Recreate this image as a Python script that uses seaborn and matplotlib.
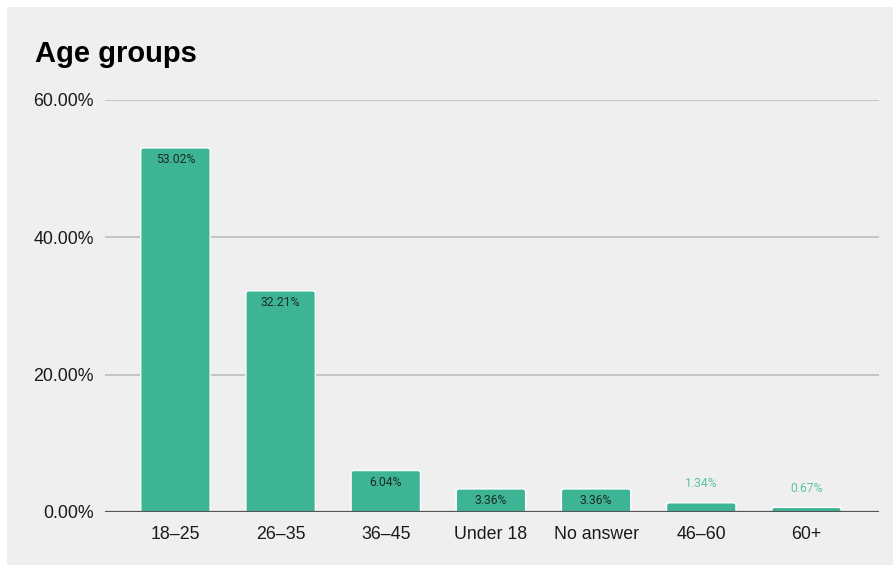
import matplotlib
matplotlib.use("Agg")
import matplotlib.pyplot as plt
from matplotlib.patches import Rectangle, FancyBboxPatch
import seaborn as sns
import pandas as pd

categories = ["18–25", "26–35", "36–45", "Under 18", "No answer", "46–60", "60+"]
shares = [53.02, 32.21, 6.04, 3.36, 3.36, 1.34, 0.67]
y_ticks = [0, 20, 40, 60]
y_tick_labels = ["0.00%", "20.00%", "40.00%", "60.00%"]

BAR = "#3db594"
PANEL = "#efefef"

sns.set_theme(style="white")
plt.rcParams["font.family"] = ["Liberation Sans", "DejaVu Sans"]

df = pd.DataFrame({"group": categories, "share": shares})

W, H = 894, 565
fig = plt.figure(figsize=(W / 100, H / 100), dpi=100, facecolor="white")
fig.patches.append(Rectangle((7 / W, 0), (W - 8) / W, (H - 7) / H,
                             transform=fig.transFigure, facecolor=PANEL,
                             edgecolor="none", zorder=-10))

ax_left, ax_right, ax_top, ax_bottom = 105, 879, 100, 512
ax = fig.add_axes([ax_left / W, (H - ax_bottom) / H,
                   (ax_right - ax_left) / W, (ax_bottom - ax_top) / H])
ax.set_facecolor(PANEL)

XLIM = (-0.67, 6.69)
YLIM = (0, 60)

sns.barplot(data=df, x="group", y="share", color=BAR, width=0.66,
            saturation=1, ax=ax, zorder=3)

# data units per pixel, so the corner radius stays circular on screen
x_per_px = (XLIM[1] - XLIM[0]) / (ax_right - ax_left)
y_per_px = (YLIM[1] - YLIM[0]) / (ax_bottom - ax_top)
radius = 2.5 * x_per_px

# rounded-top bars built from each bar's own geometry; the bottom is pushed
# below zero so the axes clip hides its rounding
for p in list(ax.patches):
    x0, y0, w, h = p.get_x(), p.get_y(), p.get_width(), p.get_height()
    p.set_visible(False)
    drop = 1.0
    rb = FancyBboxPatch((x0, y0 - drop), w, h + drop,
                        boxstyle=f"round,pad=0,rounding_size={radius}",
                        mutation_aspect=y_per_px / x_per_px,
                        facecolor=BAR, edgecolor="white", linewidth=1.0,
                        zorder=3)
    ax.add_patch(rb)

ax.set_xlim(*XLIM)
ax.set_ylim(*YLIM)
ax.set_yticks(y_ticks)
ax.set_yticklabels(y_tick_labels)
ax.set_xlabel("")
ax.set_ylabel("")
ax.tick_params(axis="both", length=0, labelsize=12.8, colors="#1a1a1a")
ax.tick_params(axis="y", pad=8)
ax.tick_params(axis="x", pad=10)

for y in y_ticks[1:]:
    ax.axhline(y, color="#bdbdbd", linewidth=1.2, zorder=1)
ax.axhline(0, color="#555555", linewidth=1.6, zorder=4)

for s in ax.spines.values():
    s.set_visible(False)

for i, v in enumerate(shares):
    if v >= 3:
        ax.text(i, v - 1.75, f"{v:.2f}%", ha="center", va="center",
                fontsize=8.7, color="#1a2a24", family=["Roboto", "DejaVu Sans"],
                zorder=5)
    else:
        ax.text(i, v + 2.75, f"{v:.2f}%", ha="center", va="center",
                fontsize=8.7, color="#5cc4a3", family=["Roboto", "DejaVu Sans"],
                zorder=5)

fig.text(35 / W, 1 - 54 / H, "Age groups", fontsize=21, fontweight="bold",
         ha="left", va="center", color="black")

fig.savefig("out.png", dpi=100, facecolor="white")
